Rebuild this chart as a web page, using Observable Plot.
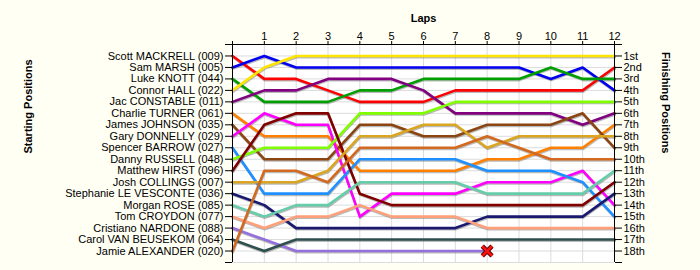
<!DOCTYPE html>
<html>
<head>
<meta charset="utf-8">
<script src="https://cdn.jsdelivr.net/npm/d3@7"></script>
<script src="https://cdn.jsdelivr.net/npm/@observablehq/plot@0.6"></script>
<style>
  html, body { margin: 0; padding: 0; background: #fffff4; }
</style>
</head>
<body>
<div id="chart"></div>
<script>
const laps = [0, 1, 2, 3, 4, 5, 6, 7, 8, 9, 10, 11, 12];

const drivers = [
  "Scott MACKRELL (009)",
  "Sam MARSH (005)",
  "Luke KNOTT (044)",
  "Connor HALL (022)",
  "Jac CONSTABLE (011)",
  "Charlie TURNER (061)",
  "James JOHNSON (035)",
  "Gary DONNELLY (029)",
  "Spencer BARROW (027)",
  "Danny RUSSELL (048)",
  "Matthew HIRST (096)",
  "Josh COLLINGS (007)",
  "Stephanie LE VESCONTE (036)",
  "Morgan ROSE (085)",
  "Tom CROYDON (077)",
  "Cristiano NARDONE (088)",
  "Carol VAN BEUSEKOM (064)",
  "Jamie ALEXANDER (020)"
];

const driverColors = [
  "#ff0000", "#0000ee", "#009e00", "#ffe400", "#800080", "#ff8000",
  "#8b4513", "#ff00ff", "#1e90ff", "#7fff00", "#800000", "#daa520",
  "#191970", "#66cdaa", "#ffa07a", "#9370db", "#2f4f4f", "#d2691e"
];

// position of each driver at the end of each lap (lap 0 = grid)
const positions = [
  [1, 3, 3, 4, 5, 5, 5, 4, 4, 4, 4, 4, 2],
  [2, 1, 2, 2, 2, 2, 2, 2, 2, 2, 3, 2, 4],
  [3, 5, 5, 5, 4, 4, 3, 3, 3, 3, 2, 3, 3],
  [4, 2, 1, 1, 1, 1, 1, 1, 1, 1, 1, 1, 1],
  [5, 4, 4, 3, 3, 3, 4, 6, 6, 6, 6, 7, 6],
  [6, 8, 8, 8, 11, 11, 11, 11, 10, 10, 9, 9, 7],
  [7, 10, 10, 10, 7, 7, 8, 8, 7, 7, 7, 6, 9],
  [8, 6, 7, 7, 15, 13, 13, 13, 12, 12, 12, 11, 14],
  [9, 13, 13, 13, 10, 10, 10, 10, 11, 11, 11, 12, 15],
  [10, 9, 9, 9, 6, 6, 6, 5, 5, 5, 5, 5, 5],
  [11, 7, 6, 6, 13, 14, 14, 14, 14, 14, 14, 14, 12],
  [12, 12, 12, 11, 8, 8, 7, 7, 9, 8, 8, 8, 8],
  [13, 14, 16, 16, 16, 16, 16, 16, 15, 15, 15, 15, 13],
  [14, 15, 14, 14, 12, 12, 12, 12, 13, 13, 13, 13, 11],
  [15, 16, 15, 15, 14, 15, 15, 15, 16, 16, 16, 16, 16],
  [16, 17, 18, 18, 18, 18, 18, 18, 18],
  [17, 18, 17, 17, 17, 17, 17, 17, 17, 17, 17, 17, 17],
  [18, 11, 11, 12, 9, 9, 9, 9, 8, 9, 10, 10, 10]
];

const finishLabels = ["1st", "2nd", "3rd", "4th", "5th", "6th", "7th", "8th", "9th",
  "10th", "11th", "12th", "13th", "14th", "15th", "16th", "17th", "18th"];

const totalLaps = laps[laps.length - 1];

const rows = drivers.flatMap((d, i) => positions[i].map((p, j) => ({driver: d, lap: laps[j], pos: p})));
const retired = drivers
  .map((d, i) => ({driver: d, lap: laps[positions[i].length - 1], pos: positions[i][positions[i].length - 1]}))
  .filter(r => r.lap < totalLaps);

const slots = d3.range(0, drivers.length + 2);
const font = "'Liberation Sans', Arial, sans-serif";

const chart = Plot.plot({
  width: 700,
  height: 270,
  marginLeft: 232,
  marginRight: 86,
  marginTop: 44,
  marginBottom: 8,
  style: {background: "#fffff4", fontFamily: font, fontSize: "11px", color: "#000"},
  x: {domain: [0, totalLaps]},
  y: {domain: [0, drivers.length + 1], reverse: true},
  color: {domain: drivers, range: driverColors},
  marks: [
    Plot.frame({fill: "#ffffff", stroke: null}),
    Plot.gridX({ticks: laps, stroke: "#dcdcdc", strokeOpacity: 1}),
    Plot.gridY({ticks: slots.slice(1), stroke: "#dcdcdc", strokeOpacity: 1}),
    Plot.line(rows, {x: "lap", y: "pos", z: "driver", stroke: "#666", strokeOpacity: 0.45, strokeWidth: 2.6, dy: 1.2, dx: 0.4}),
    Plot.line(rows, {x: "lap", y: "pos", z: "driver", stroke: "driver", strokeWidth: 2.6}),
    Plot.dot(retired, {x: "lap", y: "pos", symbol: "times", r: 4.5, stroke: "#5a0000", strokeWidth: 4.5}),
    Plot.dot(retired, {x: "lap", y: "pos", symbol: "times", r: 4.5, stroke: "#ff1010", strokeWidth: 2.6}),
    Plot.ruleX([0, totalLaps], {y1: 0, y2: drivers.length + 1, stroke: "#000"}),
    Plot.ruleY([0], {x1: 0, x2: totalLaps, stroke: "#000"}),
    Plot.axisY({anchor: "left", ticks: slots, tickSize: 7, tickPadding: 2, label: null,
      tickFormat: d => (d >= 1 && d <= drivers.length) ? drivers[d - 1] : ""}),
    Plot.axisY({anchor: "right", ticks: slots, tickSize: 7, tickPadding: 2, label: null,
      tickFormat: d => (d >= 1 && d <= drivers.length) ? finishLabels[d - 1] : ""}),
    Plot.axisX({anchor: "top", ticks: laps, tickSize: 4, tickPadding: 1, label: null,
      tickFormat: d => d === 0 ? "" : String(d)}),
    Plot.text(["Laps"], {frameAnchor: "top", dy: -30, fontWeight: "bold", fontSize: 11}),
    Plot.text(["Starting Positions"], {frameAnchor: "left", dx: -204, rotate: -90, fontWeight: "bold", fontSize: 11}),
    Plot.text(["Finishing Positions"], {frameAnchor: "right", dx: 51, rotate: 90, fontWeight: "bold", fontSize: 11})
  ]
});

document.getElementById("chart").appendChild(chart);
</script>
</body>
</html>
